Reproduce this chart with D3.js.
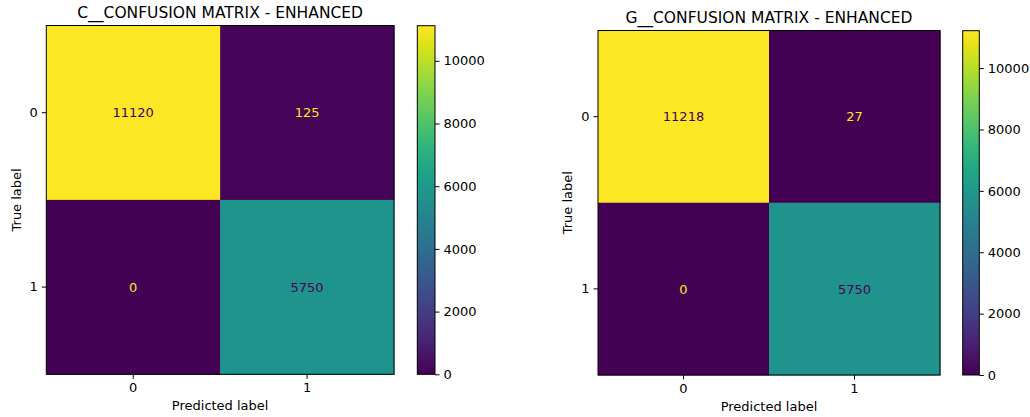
<!DOCTYPE html>
<html>
<head>
<meta charset="utf-8">
<script src="https://cdn.jsdelivr.net/npm/d3@7"></script>
<style>
  body { margin: 0; background: #fff; }
  svg { font-family: "DejaVu Sans", sans-serif; }
</style>
</head>
<body>
<script>
// data
var classLabels = ["0", "1"];
var titles = ["C__CONFUSION MATRIX - ENHANCED", "G__CONFUSION MATRIX - ENHANCED"];
var cMatrix = [[11120, 125], [0, 5750]];
var gMatrix = [[11218, 27], [0, 5750]];
var colorbarTicks = [0, 2000, 4000, 6000, 8000, 10000];

var width = 1030, height = 417;

// layout of the two panels (axes box + colorbar box)
var panels = [
    { matrix: cMatrix, title: titles[0], x0: 46.3, x1: 394, y0: 25.5, y1: 374.3, cbx0: 417.3, cbx1: 435, cby0: 25.7, cby1: 374.3 },
    { matrix: gMatrix, title: titles[1], x0: 598, x1: 940, y0: 30.5, y1: 375, cbx0: 962.7, cbx1: 979.3, cby0: 30.7, cby1: 375 }
];

var svg = d3.select("body")
    .append("svg")
    .attr("width", width)
    .attr("height", height);

var defs = svg.append("defs");

panels.forEach(function(p, pi) {

    var flat = [];
    p.matrix.forEach(function(row, i) {
        row.forEach(function(v, j) { flat.push({ row: i, col: j, value: v }); });
    });
    var vmin = d3.min(flat, function(d) { return d.value; });
    var vmax = d3.max(flat, function(d) { return d.value; });

    var color = d3.scaleSequential(d3.interpolateViridis).domain([vmin, vmax]);

    var x = d3.scaleBand().domain(classLabels).range([p.x0, p.x1]).padding(0);
    var y = d3.scaleBand().domain(classLabels).range([p.y0, p.y1]).padding(0);

    var g = svg.append("g");

    // cells
    g.selectAll(".cell")
        .data(flat)
        .enter().append("rect")
        .attr("class", "cell")
        .attr("x", function(d) { return x(classLabels[d.col]); })
        .attr("y", function(d) { return y(classLabels[d.row]); })
        .attr("width", x.bandwidth() + 0.5)
        .attr("height", y.bandwidth() + 0.5)
        .attr("fill", function(d) { return color(d.value); });

    // cell values, dark on bright cells, bright on dark ones
    var thresh = (vmin + vmax) / 2;
    g.selectAll(".val")
        .data(flat)
        .enter().append("text")
        .attr("class", "val")
        .attr("x", function(d) { return x(classLabels[d.col]) + x.bandwidth() / 2; })
        .attr("y", function(d) { return y(classLabels[d.row]) + y.bandwidth() / 2; })
        .attr("dy", "0.36em")
        .attr("text-anchor", "middle")
        .style("font-size", "13px")
        .attr("fill", function(d) { return d.value > thresh ? color(vmin) : color(vmax); })
        .text(function(d) { return d.value; });

    // axes
    var xAxis = g.append("g")
        .attr("transform", "translate(0," + p.y1 + ")")
        .call(d3.axisBottom(x).tickSizeOuter(0).tickSize(4.5).tickPadding(4));
    var yAxis = g.append("g")
        .attr("transform", "translate(" + p.x0 + ",0)")
        .call(d3.axisLeft(y).tickSizeOuter(0).tickSize(4.5).tickPadding(4));
    [xAxis, yAxis].forEach(function(a) {
        a.select(".domain").remove();
        a.selectAll("text").style("font-size", "13px").style("font-family", "DejaVu Sans").attr("fill", "#000");
        a.selectAll("line").attr("stroke", "#000").attr("stroke-width", 1);
    });

    g.append("rect")
        .attr("x", p.x0).attr("y", p.y0)
        .attr("width", p.x1 - p.x0).attr("height", p.y1 - p.y0)
        .attr("fill", "none").attr("stroke", "#000").attr("stroke-width", 1);

    // title and labels
    g.append("text")
        .attr("x", (p.x0 + p.x1) / 2)
        .attr("y", p.y0 - 7.8)
        .attr("text-anchor", "middle")
        .style("font-size", "15.5px")
        .text(p.title);

    g.append("text")
        .attr("x", (p.x0 + p.x1) / 2)
        .attr("y", p.y1 + 36)
        .attr("text-anchor", "middle")
        .style("font-size", "13px")
        .text("Predicted label");

    g.append("text")
        .attr("transform", "translate(" + (p.x0 - 25.7) + "," + ((p.y0 + p.y1) / 2) + ") rotate(-90)")
        .attr("text-anchor", "middle")
        .style("font-size", "13px")
        .text("True label");

    // colorbar
    var gradId = "grad" + pi;
    var grad = defs.append("linearGradient")
        .attr("id", gradId)
        .attr("x1", 0).attr("y1", 1).attr("x2", 0).attr("y2", 0);
    d3.range(0, 1.0001, 0.05).forEach(function(t) {
        grad.append("stop").attr("offset", t).attr("stop-color", d3.interpolateViridis(t));
    });

    var cy = d3.scaleLinear().domain([vmin, vmax]).range([p.cby1, p.cby0]);

    g.append("rect")
        .attr("x", p.cbx0).attr("y", p.cby0)
        .attr("width", p.cbx1 - p.cbx0).attr("height", p.cby1 - p.cby0)
        .attr("fill", "url(#" + gradId + ")")
        .attr("stroke", "#000").attr("stroke-width", 1);

    var cAxis = g.append("g")
        .attr("transform", "translate(" + p.cbx1 + ",0)")
        .call(d3.axisRight(cy).tickValues(colorbarTicks).tickFormat(d3.format("d")).tickSize(4.5).tickPadding(4));
    cAxis.select(".domain").remove();
    cAxis.selectAll("text").style("font-size", "13px").style("font-family", "DejaVu Sans").attr("fill", "#000");
    cAxis.selectAll("line").attr("stroke", "#000").attr("stroke-width", 1);
});
</script>
</body>
</html>
